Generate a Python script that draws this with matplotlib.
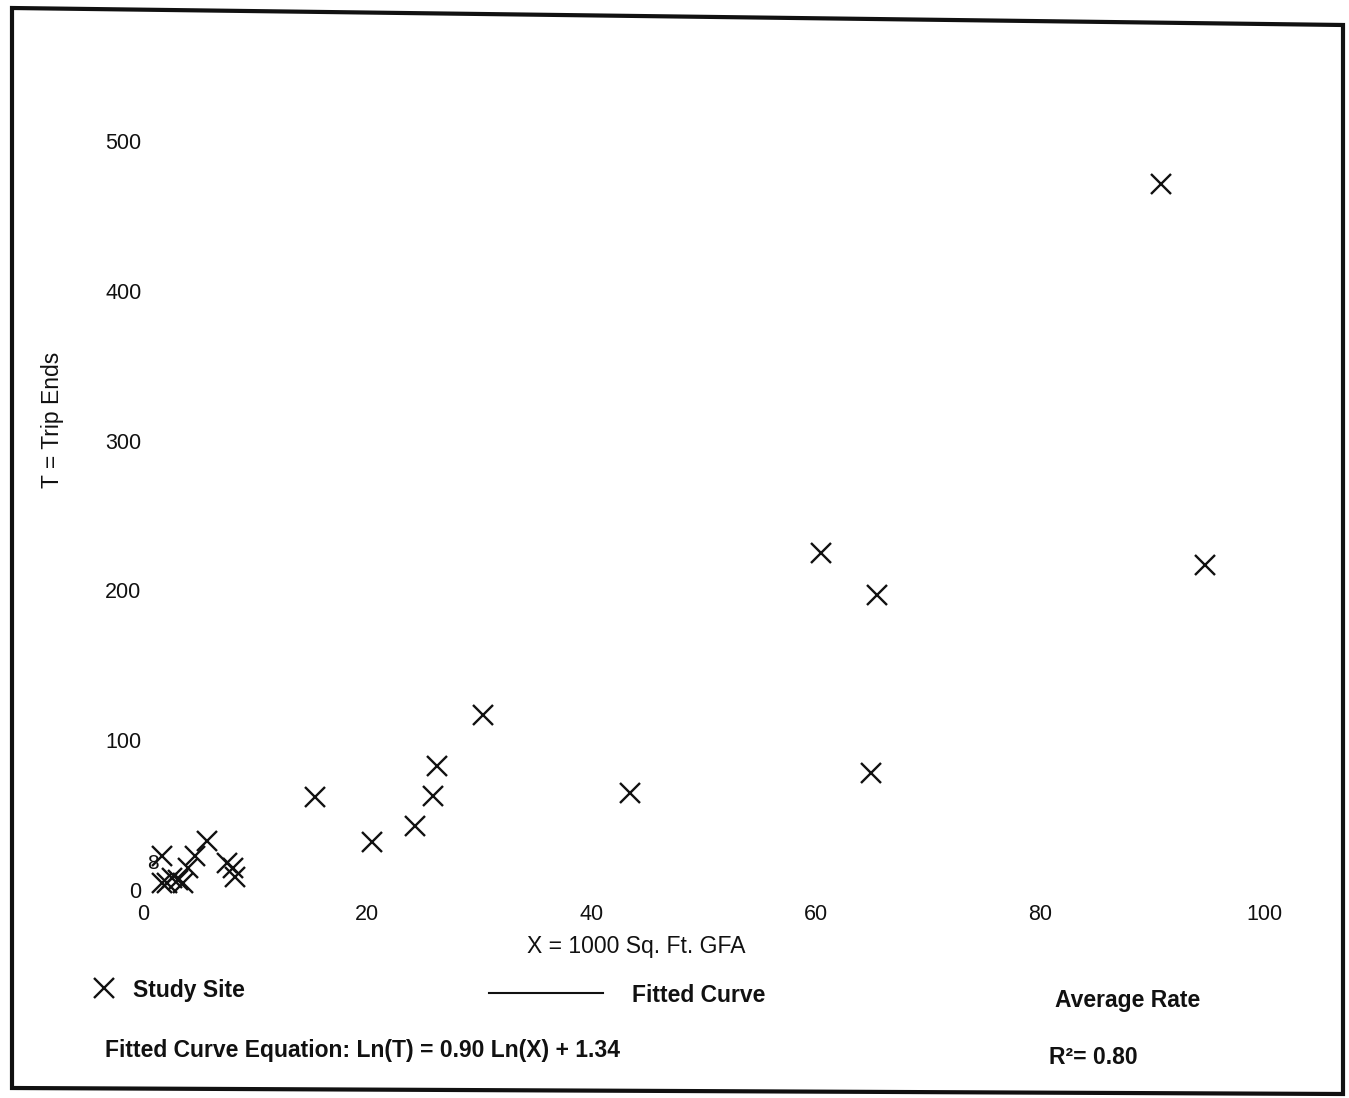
import matplotlib
matplotlib.use('Agg')
import matplotlib.pyplot as plt
from matplotlib.lines import Line2D
from matplotlib.patches import Polygon

plt.rcParams['font.family'] = ['Liberation Sans', 'DejaVu Sans']

# study sites (X = 1000 sq. ft. GFA, T = trip ends)
x_sites = [90.8, 94.7, 60.5, 65.5, 64.9, 30.3, 43.4, 26.2, 25.9, 24.3, 20.4, 15.3,
           1.7, 5.7, 4.6, 4.0, 7.5, 8.0, 8.2, 2.6, 3.1, 2.1, 3.6, 1.7]
y_sites = [471, 217, 225, 197, 78, 117, 65, 83, 63, 43, 32, 62,
           23, 33, 23, 15, 18, 15, 9, 8, 7, 5, 5, 5]

x_ticks = [0, 20, 40, 60, 80, 100]
y_ticks = [0, 100, 200, 300, 400, 500]

W, H = 1349, 1098
INK = '#111111'


def fx(px):
    return px / W


def fy(py):
    return 1 - py / H


fig = plt.figure(figsize=(W / 100, H / 100), dpi=100)

# scanned page frame (slightly skewed)
frame = Polygon([(fx(12), fy(8)), (fx(1343), fy(25)), (fx(1343), fy(1094)), (fx(12), fy(1088))],
                closed=True, fill=False, edgecolor=INK, linewidth=3,
                transform=fig.transFigure)
fig.patches.append(frame)

ax = fig.add_axes([fx(143), fy(890), fx(1264) - fx(143), fy(141) - fy(890)])
ax.set_xlim(0, 100)
ax.set_ylim(0, 500)
for s in ax.spines.values():
    s.set_visible(False)
ax.set_xticks(x_ticks)
ax.set_yticks(y_ticks)
ax.tick_params(axis='x', length=0, pad=10, labelsize=15.5, colors=INK)
ax.tick_params(axis='y', length=0, pad=1, labelsize=15.5, colors=INK)
ax.patch.set_alpha(0)

ax.plot(x_sites, y_sites, linestyle='none', marker='x', markersize=14,
        markeredgewidth=1.7, color=INK, clip_on=False)
ax.text(0.9, 18, '8', fontsize=15, ha='center', va='center', color=INK)

fig.text(fx(636), fy(947), 'X = 1000 Sq. Ft. GFA', fontsize=16.5, ha='center', va='center',
         color=INK)
fig.text(fx(52), fy(420), 'T = Trip Ends', fontsize=16.5, rotation=90, ha='center', va='center',
         color=INK)

# legend / footer
fig.lines.append(Line2D([fx(104)], [fy(988)], marker='x', markersize=14, markeredgewidth=1.7,
                        color=INK, linestyle='none', transform=fig.transFigure))
fig.text(fx(133), fy(990), 'Study Site', fontsize=16.5, fontweight='bold', ha='left', va='center',
         color=INK)
fig.lines.append(Line2D([fx(489), fx(603)], [fy(993), fy(993)], color=INK, linewidth=1.5,
                        transform=fig.transFigure))
fig.text(fx(632), fy(996), 'Fitted Curve', fontsize=16.5, fontweight='bold', ha='left',
         va='center', color=INK)
fig.text(fx(1128), fy(1001), 'Average Rate', fontsize=16.5, fontweight='bold', ha='center',
         va='center', color=INK)
fig.text(fx(105), fy(1050), 'Fitted Curve Equation: Ln(T) = 0.90 Ln(X) + 1.34', fontsize=16.5,
         fontweight='bold', ha='left', va='center', color=INK)
fig.text(fx(1049), fy(1058), 'R²= 0.80', fontsize=16.5, fontweight='bold', ha='left',
         va='center', color=INK)

fig.savefig('out.png', dpi=100)
